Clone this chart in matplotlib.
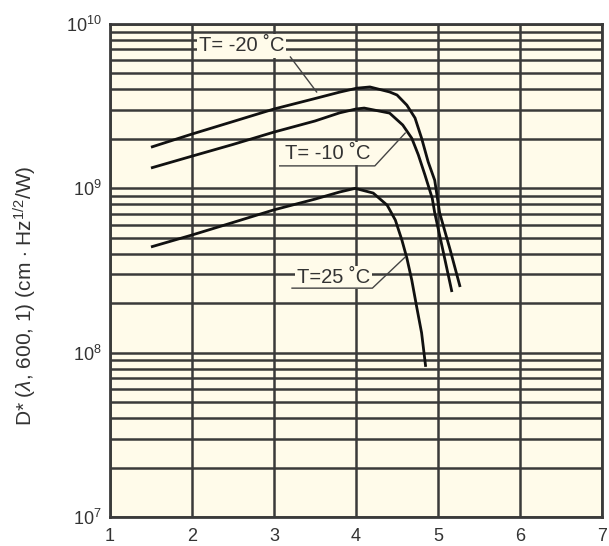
import matplotlib
matplotlib.use("Agg")
import matplotlib.pyplot as plt
from matplotlib.ticker import LogLocator, FixedLocator

plt.rcParams['font.family'] = ['Liberation Sans', 'DejaVu Sans']
plt.rcParams['mathtext.fontset'] = 'custom'
plt.rcParams['mathtext.rm'] = 'Liberation Sans'
plt.rcParams['mathtext.it'] = 'Liberation Sans:italic'

# Wavelength (um) and detectivity D* for each element temperature
wl_m20 = [1.5, 2.0, 2.5, 3.0, 3.5, 3.8, 4.01, 4.17, 4.41, 4.5, 4.62, 4.72, 4.8,
          4.88, 4.96, 5.02, 5.15, 5.27]
d_m20 = [1.78e9, 2.14e9, 2.55e9, 3.04e9, 3.52e9, 3.85e9, 4.07e9, 4.14e9, 3.86e9,
         3.70e9, 3.21e9, 2.68e9, 2.02e9, 1.45e9, 1.12e9, 7.1e8, 4.2e8, 2.51e8]

wl_m10 = [1.5, 2.0, 2.5, 3.0, 3.5, 3.8, 4.0, 4.1, 4.41, 4.57, 4.68, 4.76, 4.84,
          4.93, 4.96, 5.06, 5.17]
d_m10 = [1.33e9, 1.57e9, 1.85e9, 2.2e9, 2.57e9, 2.88e9, 3.04e9, 3.08e9, 2.87e9,
         2.43e9, 2.02e9, 1.60e9, 1.21e9, 8.7e8, 7.1e8, 4.2e8, 2.34e8]

wl_25 = [1.5, 2.0, 2.5, 3.0, 3.5, 3.8, 3.99, 4.21, 4.38, 4.48, 4.56, 4.62, 4.68,
         4.74, 4.8, 4.85]
d_25 = [4.4e8, 5.2e8, 6.2e8, 7.4e8, 8.6e8, 9.5e8, 1.0e9, 9.36e8, 7.9e8, 6.41e8,
        4.84e8, 3.77e8, 2.77e8, 1.9e8, 1.32e8, 8.2e7]

x_ticks = [1, 2, 3, 4, 5, 6, 7]

bg = '#fffbea'
grid_c = '#3a3a3a'
text_c = '#333333'

fig = plt.figure(figsize=(6.09, 5.46), dpi=100)
ax = fig.add_axes([0.1806, 0.0531, 0.8079, 0.9029])
ax.set_facecolor(bg)
ax.set_yscale('log')
ax.set_xlim(1, 7)
ax.set_ylim(1e7, 1e10)

ax.xaxis.set_major_locator(FixedLocator(x_ticks))
ax.yaxis.set_major_locator(LogLocator(base=10, numticks=10))
ax.yaxis.set_minor_locator(LogLocator(base=10, subs=range(2, 10), numticks=20))
ax.yaxis.set_minor_formatter(plt.NullFormatter())

ax.grid(True, which='major', axis='both', color=grid_c, lw=1.8, zorder=1)
ax.grid(True, which='minor', axis='y', color=grid_c, lw=1.8, zorder=1)
ax.set_axisbelow(True)
ax.tick_params(which='both', length=0, labelsize=13, colors=text_c)
ax.tick_params(axis='y', pad=6)
ax.tick_params(axis='x', pad=8)
for s in ax.spines.values():
    s.set_color(grid_c)
    s.set_linewidth(2)

for wl, d in [(wl_m20, d_m20), (wl_m10, d_m10), (wl_25, d_25)]:
    ax.plot(wl, d, color='#111111', lw=2, zorder=3, solid_capstyle='butt',
            solid_joinstyle='round')

ax.set_ylabel(r'D* ($\lambda$, 600, 1) (cm $\cdot$ Hz$^{1/2}$/W)', fontsize=15,
              color=text_c, va='center')
ax.yaxis.set_label_coords(-0.171, 0.448)

box = dict(facecolor=bg, edgecolor='none', pad=1.5)
lead = dict(color='#444444', lw=1, zorder=6)

# T = -20 C
ax.text(2.08, 7.35e9, 'T= -20 ˚C', fontsize=14.5, color=text_c, va='center',
        ha='left', bbox=box, zorder=5)
ax.plot([3.2, 3.52], [6.3e9, 3.86e9], **lead)

# T = -10 C
ax.text(3.14, 1.64e9, 'T= -10 ˚C', fontsize=14.5, color=text_c, va='center',
        ha='left', bbox=box, zorder=5)
ax.plot([3.07, 4.23, 4.60], [1.37e9, 1.37e9, 2.17e9], **lead)

# T = 25 C
ax.text(3.28, 2.85e8, 'T=25 ˚C', fontsize=14.5, color=text_c, va='center',
        ha='left', bbox=box, zorder=5)
ax.plot([3.22, 4.2, 4.6], [2.47e8, 2.47e8, 3.82e8], **lead)

fig.savefig('out.png', dpi=100)
